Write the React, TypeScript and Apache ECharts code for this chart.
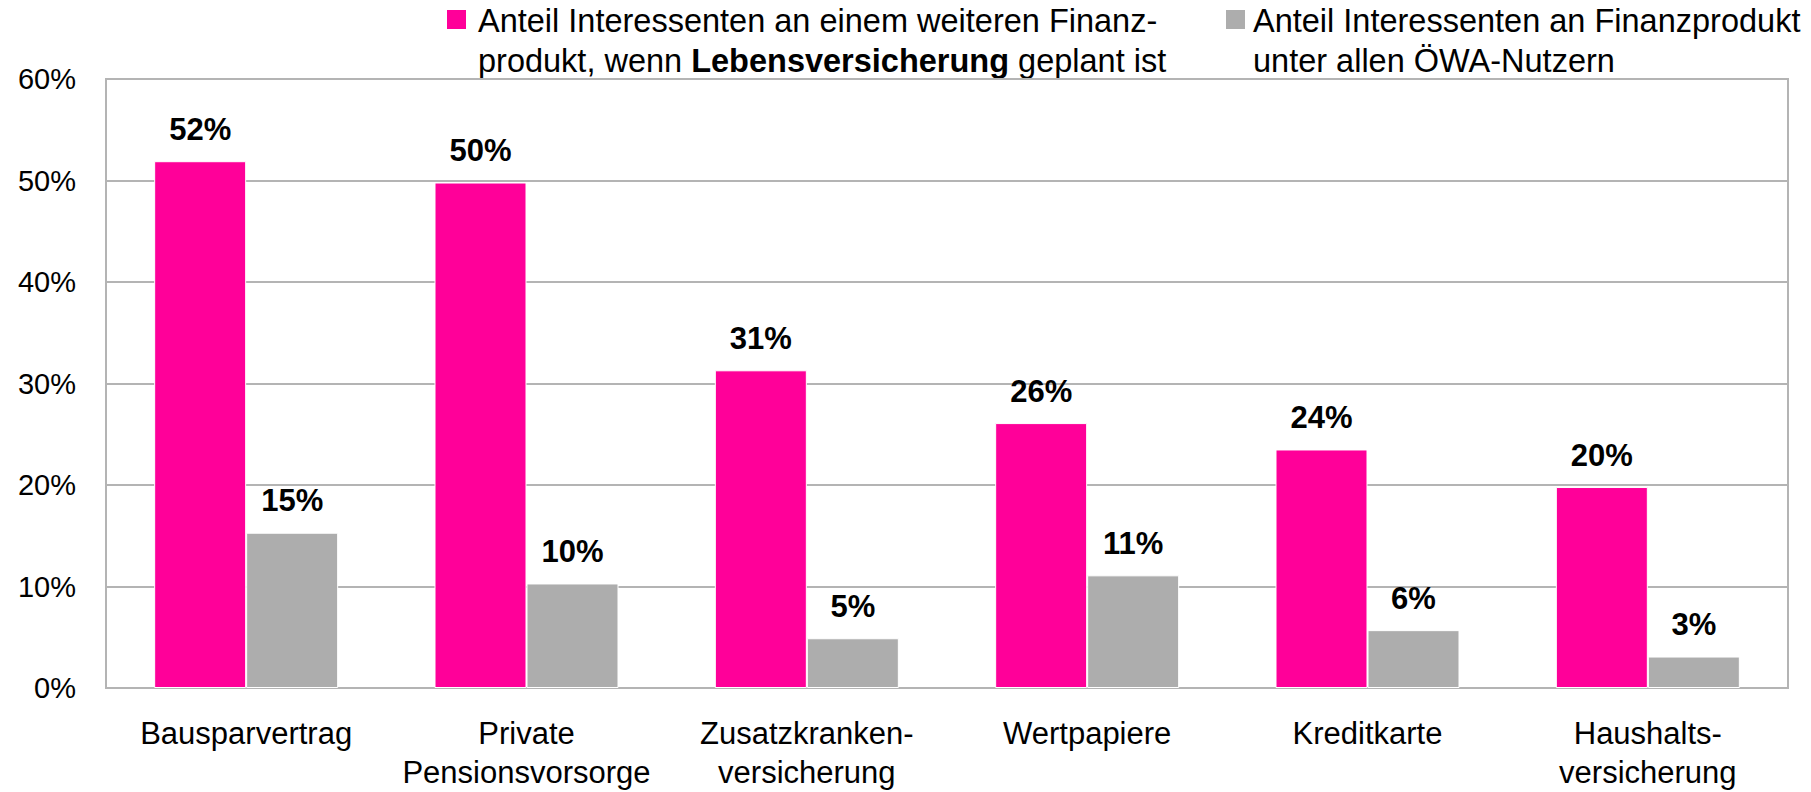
import React, { useEffect, useRef } from "react";
import * as echarts from "echarts";

const categories = [
  "Bausparvertrag",
  "Private\nPensionsvorsorge",
  "Zusatzkranken-\nversicherung",
  "Wertpapiere",
  "Kreditkarte",
  "Haushalts-\nversicherung",
];
const seriesLebens = [51.9, 49.8, 31.3, 26.1, 23.5, 19.8];
const seriesAlle = [15.3, 10.3, 4.9, 11.1, 5.7, 3.1];
const seriesNames = [
  "Anteil Interessenten an einem weiteren Finanzprodukt, wenn Lebensversicherung geplant ist",
  "Anteil Interessenten an Finanzprodukt unter allen ÖWA-Nutzern",
];
const yTicks = { min: 0, max: 60, interval: 10 };

const PINK = "#FF0099";
const GRAY = "#ADADAD";
const GRID = "#B4B4B4";
const FONT = "Arial, 'Liberation Sans', sans-serif";

export default function App() {
  const ref = useRef<HTMLDivElement>(null);
  useEffect(() => {
    if (!ref.current) return;
    const chart = echarts.init(ref.current, undefined, { renderer: "svg" });
    const label = {
      show: true,
      position: "top",
      distance: 15,
      fontFamily: FONT,
      fontSize: 31,
      fontWeight: "bold",
      lineHeight: 34,
      color: "#000",
      formatter: (p: any) => Math.round(p.value) + "%",
    };
    chart.setOption({
      animation: false,
      backgroundColor: "#fff",
      textStyle: { fontFamily: FONT },
      grid: {
        left: 106,
        right: 23,
        top: 79,
        bottom: 97,
        show: true,
        borderColor: GRID,
        borderWidth: 2,
        backgroundColor: "transparent",
      },
      xAxis: {
        type: "category",
        data: categories,
        axisLine: { show: true, lineStyle: { color: GRID, width: 2 } },
        axisTick: { show: false },
        axisLabel: {
          interval: 0,
          margin: 26,
          color: "#000",
          fontFamily: FONT,
          fontSize: 31,
          lineHeight: 39,
        },
      },
      yAxis: {
        type: "value",
        min: yTicks.min,
        max: yTicks.max,
        interval: yTicks.interval,
        axisLine: { show: true, lineStyle: { color: GRID, width: 2 } },
        axisTick: { show: false },
        splitLine: { show: true, lineStyle: { color: GRID, width: 2 } },
        axisLabel: {
          formatter: "{value}%",
          margin: 30,
          color: "#000",
          fontFamily: FONT,
          fontSize: 29,
        },
      },
      series: [
        {
          name: seriesNames[0],
          type: "bar",
          data: seriesLebens,
          barWidth: 92,
          barGap: "0%",
          itemStyle: { color: PINK, borderColor: "#fff", borderWidth: 1 },
          label,
        },
        {
          name: seriesNames[1],
          type: "bar",
          data: seriesAlle,
          barWidth: 92,
          barGap: "0%",
          itemStyle: { color: GRAY, borderColor: "#fff", borderWidth: 1 },
          label,
        },
      ],
      graphic: [
        {
          type: "rect",
          shape: { x: 447, y: 10, width: 19, height: 19 },
          style: { fill: PINK },
        },
        {
          type: "text",
          x: 478,
          y: 1,
          style: {
            text: "Anteil Interessenten an einem weiteren Finanz-\nprodukt, wenn {b|Lebensversicherung} geplant ist",
            fontFamily: FONT,
            fontSize: 32.5,
            lineHeight: 40,
            fill: "#000",
            rich: {
              b: { fontFamily: FONT, fontSize: 32.5, lineHeight: 40, fontWeight: "bold", fill: "#000" },
            },
          },
        },
        {
          type: "rect",
          shape: { x: 1226, y: 10, width: 19, height: 19 },
          style: { fill: GRAY },
        },
        {
          type: "text",
          x: 1253,
          y: 1,
          style: {
            text: "Anteil Interessenten an Finanzprodukt\nunter allen ÖWA-Nutzern",
            fontFamily: FONT,
            fontSize: 32.5,
            lineHeight: 40,
            fill: "#000",
          },
        },
      ],
    });
    return () => chart.dispose();
  }, []);
  return (
    <div
      ref={ref}
      style={{ position: "absolute", left: 0, top: 0, width: 1811, height: 792 }}
    />
  );
}
